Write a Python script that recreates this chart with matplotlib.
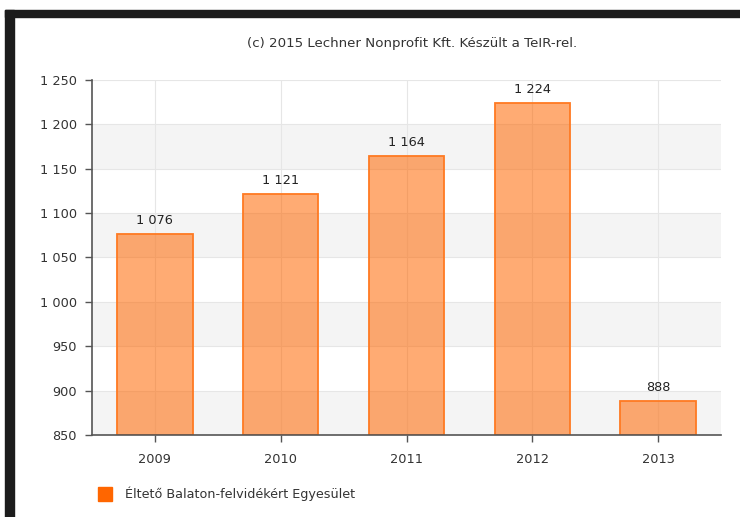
import matplotlib
matplotlib.use("Agg")
import matplotlib.pyplot as plt
from matplotlib.patches import Rectangle
import numpy as np

YEARS = ["2009", "2010", "2011", "2012", "2013"]
VALUES = [1076, 1121, 1164, 1224, 888]
SERIES = "Éltető Balaton-felvidékért Egyesület"
TITLE = "(c) 2015 Lechner Nonprofit Kft. Készült a TeIR-rel."
Y_TICKS = [850, 900, 950, 1000, 1050, 1100, 1150, 1200, 1250]

W, H = 740, 517


def fmt(v):
    return f"{v:,}".replace(",", " ")


fig = plt.figure(figsize=(W / 100, H / 100), dpi=100)
fig.patch.set_facecolor("white")

# black frame (top and left)
fig.patches.append(Rectangle((5 / W, 1 - 17 / H), 1, 7 / H, transform=fig.transFigure,
                             color="#1c1c1c", zorder=0))
fig.patches.append(Rectangle((5 / W, 0), 9 / W, 1 - 10 / H, transform=fig.transFigure,
                             color="#1c1c1c", zorder=0))

ax = fig.add_axes([92 / W, 1 - 435 / H, 629 / W, 355 / H])
ax.set_xlim(-0.5, len(YEARS) - 0.5)
ax.set_ylim(Y_TICKS[0], Y_TICKS[-1])

# alternating bands
for i in range(0, len(Y_TICKS) - 1, 2):
    ax.axhspan(Y_TICKS[i], Y_TICKS[i + 1], color="#f4f4f4", zorder=0, lw=0)
for t in Y_TICKS:
    ax.axhline(t, color="#e6e6e6", lw=0.8, zorder=0.5)
x = np.arange(len(YEARS))
for xi in x:
    ax.axvline(xi, color="#e6e6e6", lw=0.8, zorder=0.5)

ax.bar(x, [v - Y_TICKS[0] for v in VALUES], bottom=Y_TICKS[0], width=0.6,
       facecolor=(1.0, 0.4, 0.0, 0.55), edgecolor="#ff7a22", linewidth=1.3, zorder=2)
for xi, v in zip(x, VALUES):
    ax.text(xi, v + 8, fmt(v), ha="center", va="bottom", fontsize=9.3,
            color="#222222", zorder=3)

ax.set_xticks(x)
ax.set_xticklabels(YEARS, fontsize=9.3, color="#333333")
ax.set_yticks(Y_TICKS)
ax.set_yticklabels([fmt(t) for t in Y_TICKS], fontsize=9.3, color="#333333")
ax.tick_params(axis="both", length=5, color="#555555", width=1)
ax.tick_params(axis="x", pad=8)
ax.tick_params(axis="y", pad=6)
for sp in ("top", "right"):
    ax.spines[sp].set_visible(False)
for sp in ("left", "bottom"):
    ax.spines[sp].set_color("#555555")
    ax.spines[sp].set_linewidth(1.2)

fig.text(412 / W, 1 - 44 / H, TITLE, ha="center", va="center", fontsize=9.6,
         color="#333333")

# legend
fig.patches.append(Rectangle((98 / W, 1 - 501 / H), 14 / W, 14 / H,
                             transform=fig.transFigure, color="#ff6600"))
fig.text(125 / W, 1 - 494 / H, SERIES, ha="left", va="center", fontsize=9.2,
         color="#333333")

fig.savefig("out.png", dpi=100)
